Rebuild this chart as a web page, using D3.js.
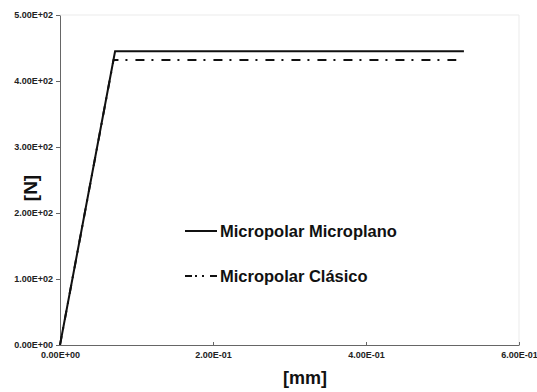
<!DOCTYPE html>
<html>
<head>
<meta charset="utf-8">
<script src="https://cdn.jsdelivr.net/npm/d3@7"></script>
<style>
  body { margin: 0; background: #fff; }
  text { font-family: "Liberation Sans", Arial, sans-serif; }
</style>
</head>
<body>
<svg id="chart"></svg>
<script>
// displacement [mm] vs force [N]
var microplanoX = [0, 0.072, 0.528];
var microplanoY = [0, 445, 445];
var clasicoX = [0, 0.070, 0.518];
var clasicoY = [0, 432, 432];
var seriesNames = ["Micropolar Microplano", "Micropolar Clásico"];
var xTicks = [0, 0.2, 0.4, 0.6];
var yTicks = [0, 100, 200, 300, 400, 500];

var width = 537, height = 392;
var margin = { left: 60, right: 18, top: 15, bottom: 47 };

var svg = d3.select("#chart")
  .attr("width", width)
  .attr("height", height);

var x = d3.scaleLinear().domain([0, 0.6]).range([margin.left, width - margin.right]);
var y = d3.scaleLinear().domain([0, 500]).range([height - margin.bottom, margin.top]);

function sci(v) {
  // 2.00E-01 style
  var s = v.toExponential(2).toUpperCase();
  var parts = s.split("E");
  var e = parseInt(parts[1]);
  var es = (e < 0 ? "-" : "+") + (Math.abs(e) < 10 ? "0" : "") + Math.abs(e);
  return parts[0] + "E" + es;
}

// faint plot frame (top, right)
svg.append("path")
  .attr("d", "M" + x(0) + "," + y(500) + "H" + x(0.6) + "V" + y(0))
  .attr("fill", "none")
  .attr("stroke", "#ebebeb")
  .attr("stroke-width", 1);

var xAxis = svg.append("g")
  .attr("transform", "translate(0," + y(0) + ")")
  .call(d3.axisBottom(x).tickValues(xTicks).tickFormat(sci).tickSizeInner(-3).tickSizeOuter(0).tickPadding(7));

var yAxis = svg.append("g")
  .attr("transform", "translate(" + x(0) + ",0)")
  .call(d3.axisLeft(y).tickValues(yTicks).tickFormat(sci).tickSize(4).tickSizeOuter(0).tickPadding(3));

[xAxis, yAxis].forEach(function (g) {
  g.select(".domain").attr("stroke", "#666");
  g.selectAll(".tick line").attr("stroke", "#666");
  g.selectAll(".tick text")
    .style("font-size", "9px")
    .style("font-weight", "bold")
    .style("font-family", "Liberation Sans, Arial, sans-serif")
    .attr("fill", "#222");
});

var line = d3.line()
  .x(function (d) { return x(d[0]); })
  .y(function (d) { return y(d[1]); });

var dataMicroplano = d3.zip(microplanoX, microplanoY);
var dataClasico = d3.zip(clasicoX, clasicoY);

svg.append("path")
  .datum(dataClasico)
  .attr("d", line)
  .attr("fill", "none")
  .attr("stroke", "#111")
  .attr("stroke-width", 2)
  .attr("stroke-dasharray", "9,7,2,8");

svg.append("path")
  .datum(dataMicroplano)
  .attr("d", line)
  .attr("fill", "none")
  .attr("stroke", "#111")
  .attr("stroke-width", 2);

// legend
var dashes = [null, "7,3,2,5,2,6"];
var legende = svg.selectAll(".legend")
  .data(seriesNames)
  .enter()
  .append("g")
  .attr("class", "legend")
  .attr("transform", function (d, i) {
    return "translate(185," + (231 + i * 45) + ")";
  });

legende.append("line")
  .attr("x1", 0).attr("x2", 32)
  .attr("stroke", "#111")
  .attr("stroke-width", 2)
  .attr("stroke-dasharray", function (d, i) { return dashes[i]; });

legende.append("text")
  .attr("x", 35)
  .attr("y", 6)
  .style("font-size", "16.5px")
  .style("font-weight", "bold")
  .attr("fill", "#111")
  .text(function (d) { return d; });

// axis titles
svg.append("text")
  .attr("x", 305)
  .attr("y", 384)
  .attr("text-anchor", "middle")
  .style("font-size", "18px")
  .style("font-weight", "bold")
  .attr("fill", "#111")
  .text("[mm]");

svg.append("text")
  .attr("transform", "translate(37,188) rotate(-90)")
  .attr("text-anchor", "middle")
  .style("font-size", "19px")
  .style("font-weight", "bold")
  .attr("fill", "#111")
  .text("[N]");
</script>
</body>
</html>
